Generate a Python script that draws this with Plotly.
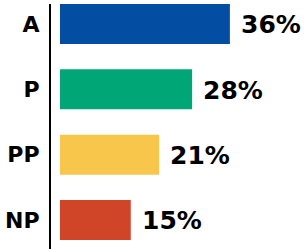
import plotly.graph_objects as go

categories = ["A", "P", "PP", "NP"]
values = [36, 28, 21, 15]
colors = ["#034ea2", "#00a676", "#f7c64b", "#d04427"]

FONT = "DejaVu Sans, Verdana, sans-serif"

fig = go.Figure(
    go.Bar(
        x=values,
        y=categories,
        orientation="h",
        marker=dict(color=colors, line=dict(width=0)),
        cliponaxis=False,
    )
)

for cat, val in zip(categories, values):
    fig.add_annotation(
        x=val,
        y=cat,
        xref="x",
        yref="y",
        text=f"{val}%",
        showarrow=False,
        xanchor="left",
        yanchor="middle",
        xshift=9,
        yshift=-1,
        font=dict(family=FONT, size=25, color="black", weight="bold"),
    )

fig.update_layout(
    width=304,
    height=249,
    margin=dict(l=51, r=0, t=4, b=0, autoexpand=False),
    paper_bgcolor="white",
    plot_bgcolor="white",
    bargap=0.388,
    showlegend=False,
    xaxis=dict(range=[-1.9, 51.7], visible=False, fixedrange=True, automargin=False),
    yaxis=dict(
        range=[3.444, -0.306],
        showline=True,
        linecolor="black",
        linewidth=2,
        showgrid=False,
        zeroline=False,
        ticks="",
        automargin=False,
        ticklabelstandoff=5,
        tickfont=dict(family=FONT, size=22, color="black", weight="bold"),
        fixedrange=True,
    ),
)

fig.write_html(
    "out.html",
    config={"displayModeBar": False},
    post_script="document.body.style.margin='0';document.body.style.overflow='hidden';",
)
